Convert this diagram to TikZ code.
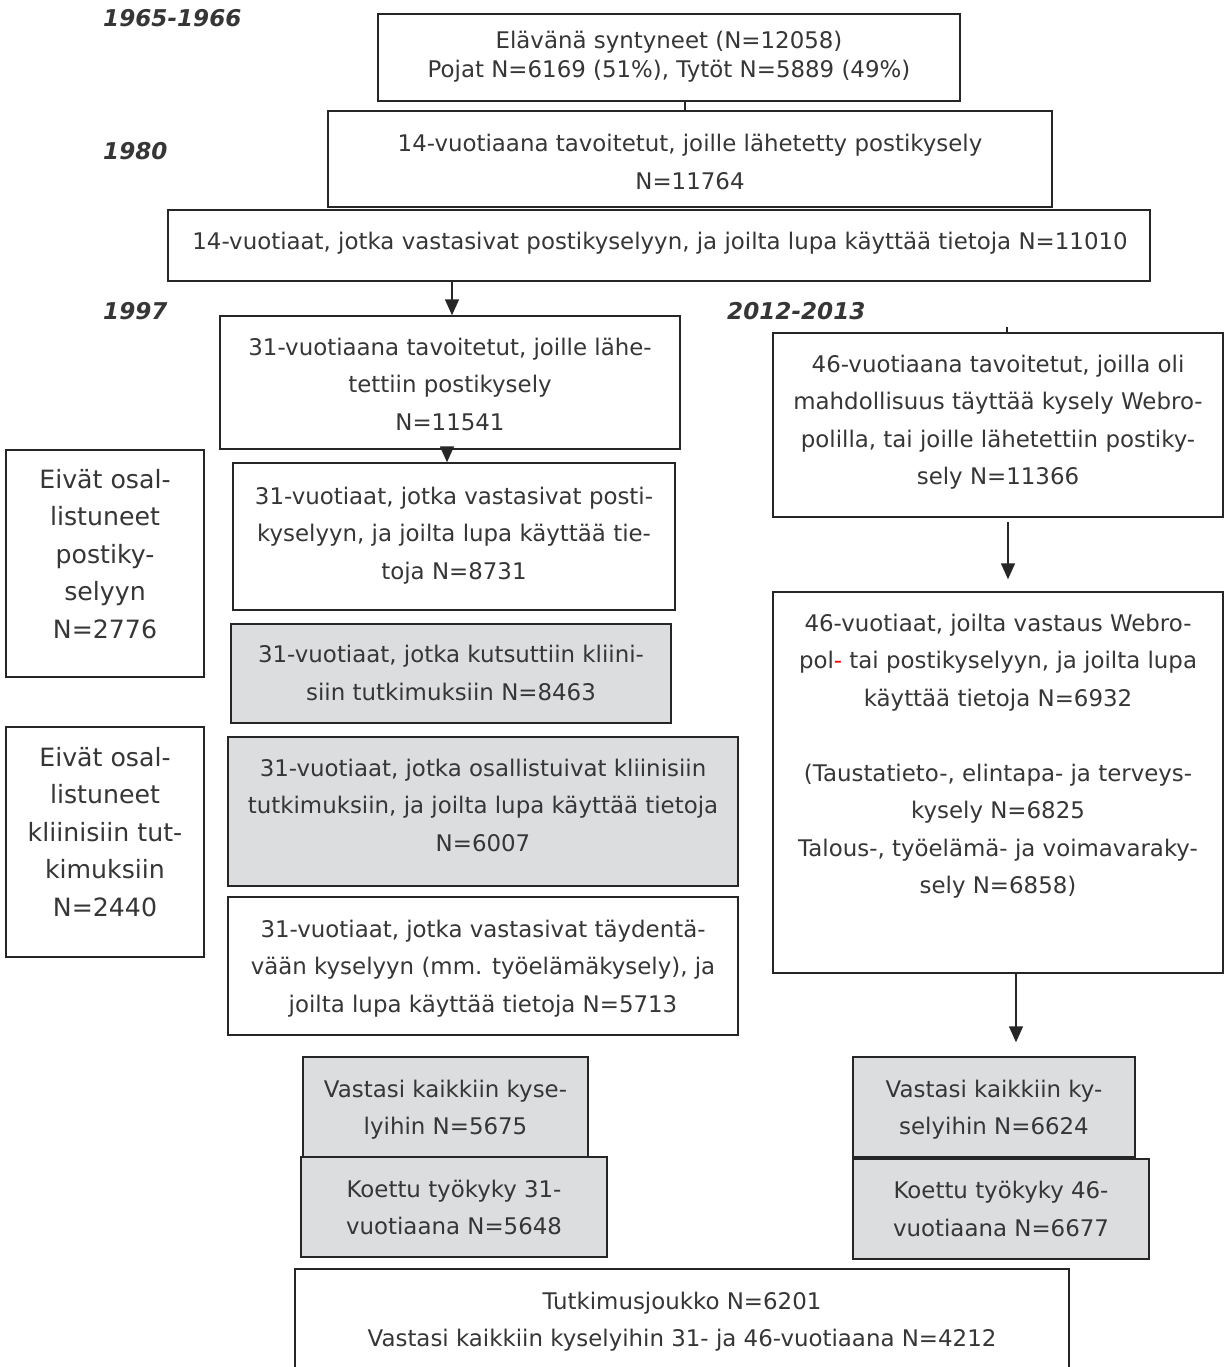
\documentclass[tikz,border=0pt]{standalone}
\usepackage{fontspec}
\setmainfont{DejaVu Sans}
\usetikzlibrary{arrows.meta,calc}
\definecolor{linec}{HTML}{262626}
\definecolor{textc}{HTML}{363636}
\definecolor{boxgray}{HTML}{DCDDDF}
\tikzset{
  box/.style={draw=linec, line width=1.5pt, fill=white, inner sep=0pt},
  gbox/.style={box, fill=boxgray},
  txt/.style={align=center, text=textc, inner sep=0pt, font=\fontsize{22.9}{37.5}\selectfont},
  bigtxt/.style={txt, font=\fontsize{25.2}{37.5}\selectfont},
  year/.style={anchor=west, text=textc, inner sep=0pt, font=\fontsize{23.1}{26}\selectfont\bfseries\itshape},
  arr/.style={draw=linec, line width=1.6pt, -{Triangle[width=14pt,length=16pt]}},
  conn/.style={draw=linec, line width=1.5pt}
}
\begin{document}
\begin{tikzpicture}[x=1pt,y=-1pt]
\useasboundingbox (0,0) rectangle (1230,1367);
\fill[white] (0,0) rectangle (1230,1367);

% years
\node[year] (y1) at (103,18) {1965-1966};
\node[year] (y2) at (103,151) {1980};
\node[year] (y3) at (103,311) {1997};
\node[year] (y4) at (727,311) {2012-2013};

% boxes
\node[box, minimum width=582pt, minimum height=87pt] (b1) at (669,57.5) {};
\node[txt, font=\fontsize{22.9}{29}\selectfont] (t1) at (669,57.5) {\strut Elävänä syntyneet (N=12058)\\Pojat N=6169 (51\%), Tytöt N=5889 (49\%)\strut};

\node[box, minimum width=724pt, minimum height=96pt] (b2) at (690,159) {};
\node[txt] (t2) at (690,163) {\strut 14-vuotiaana tavoitetut, joille lähetetty postikysely\\N=11764\strut};

\node[box, minimum width=982pt, minimum height=71pt] (b3) at (659,245.5) {};
\node[txt] (t3) at (660,242) {\strut 14-vuotiaat, jotka vastasivat postikyselyyn, ja joilta lupa käyttää tietoja N=11010\strut};

\node[box, minimum width=460pt, minimum height=133pt] (b4) at (450,382.5) {};
\node[txt] (t4) at (450,385) {\strut 31-vuotiaana tavoitetut, joille lähe-\\tettiin postikysely\\N=11541\strut};

\node[box, minimum width=442pt, minimum height=147pt] (b5) at (454,536.5) {};
\node[txt] (t5) at (454,534) {\strut 31-vuotiaat, jotka vastasivat posti-\\kyselyyn, ja joilta lupa käyttää tie-\\toja N=8731\strut};

\node[gbox, minimum width=440pt, minimum height=99pt] (b6) at (451,673.5) {};
\node[txt] (t6) at (451,674) {\strut 31-vuotiaat, jotka kutsuttiin kliini-\\siin tutkimuksiin N=8463\strut};

\node[gbox, minimum width=510pt, minimum height=149pt] (b7) at (483,811.5) {};
\node[txt] (t7) at (483,806) {\strut 31-vuotiaat, jotka osallistuivat kliinisiin\\tutkimuksiin, ja joilta lupa käyttää tietoja\\N=6007\strut};

\node[box, minimum width=510pt, minimum height=138pt] (b8) at (483,966) {};
\node[txt] (t8) at (483,967) {\strut 31-vuotiaat, jotka vastasivat täydentä-\\vään kyselyyn (mm. työelämäkysely), ja\\joilta lupa käyttää tietoja N=5713\strut};

\node[gbox, minimum width=285pt, minimum height=100pt] (b9) at (445.5,1107) {};
\node[txt] (t9) at (445.5,1108.5) {\strut Vastasi kaikkiin kyse-\\lyihin N=5675\strut};

\node[gbox, minimum width=306pt, minimum height=100pt] (b10) at (454,1207) {};
\node[txt] (t10) at (454,1208.5) {\strut Koettu työkyky 31-\\vuotiaana N=5648\strut};

\node[box, minimum width=774pt, minimum height=131pt] (b11) at (682,1334.5) {};
\node[txt] (t11) at (682,1320.5) {\strut Tutkimusjoukko N=6201\\Vastasi kaikkiin kyselyihin 31- ja 46-vuotiaana N=4212\strut};

\node[box, minimum width=198pt, minimum height=227pt] (l1) at (105,563.5) {};
\node[bigtxt] (tl1) at (105,555.5) {\strut Eivät osal-\\listuneet\\postiky-\\selyyn\\N=2776\strut};

\node[box, minimum width=198pt, minimum height=230pt] (l2) at (105,842) {};
\node[bigtxt] (tl2) at (105,833.5) {\strut Eivät osal-\\listuneet\\kliinisiin tut-\\kimuksiin\\N=2440\strut};

\node[box, minimum width=450pt, minimum height=184pt] (r1) at (998,425) {};
\node[txt] (tr1) at (998,421) {\strut 46-vuotiaana tavoitetut, joilla oli\\mahdollisuus täyttää kysely Webro-\\polilla, tai joille lähetettiin postiky-\\sely N=11366\strut};

\node[box, minimum width=450pt, minimum height=381pt] (r2) at (998,782.5) {};
\node[txt] (tr2) at (998,755) {\strut 46-vuotiaat, joilta vastaus Webro-\\pol{\color{red}-} tai postikyselyyn, ja joilta lupa\\käyttää tietoja N=6932\\\strut\\(Taustatieto-, elintapa- ja terveys-\\kysely N=6825\\Talous-, työelämä- ja voimavaraky-\\sely N=6858)\strut};

\node[gbox, minimum width=282pt, minimum height=100pt] (r3) at (994,1107) {};
\node[txt] (tr3) at (994,1108.5) {\strut Vastasi kaikkiin ky-\\selyihin N=6624\strut};

\node[gbox, minimum width=296pt, minimum height=100pt] (r4) at (1001,1209) {};
\node[txt] (tr4) at (1001,1210) {\strut Koettu työkyky 46-\\vuotiaana N=6677\strut};

% connectors
\draw[conn] ([xshift=-5pt]b2.north |- b1.south) -- ([xshift=-5pt]b2.north);
\draw[arr] ([xshift=2pt]b4.north |- b3.south) -- ([xshift=2pt]b4.north);
\draw[arr] ([xshift=-3pt]b4.south) -- ([xshift=-3pt]b4.south |- b5.north);
\coordinate (st) at (1007,327);
\draw[conn] (st) -- (st |- r1.north);
\draw[arr, shorten <=4pt, shorten >=12pt] ([xshift=10pt]r1.south) -- ([xshift=10pt]r1.south |- r2.north);
\draw[arr, shorten >=14pt] ([xshift=18pt]r2.south) -- ([xshift=18pt]r2.south |- r3.north);
\end{tikzpicture}
\end{document}
